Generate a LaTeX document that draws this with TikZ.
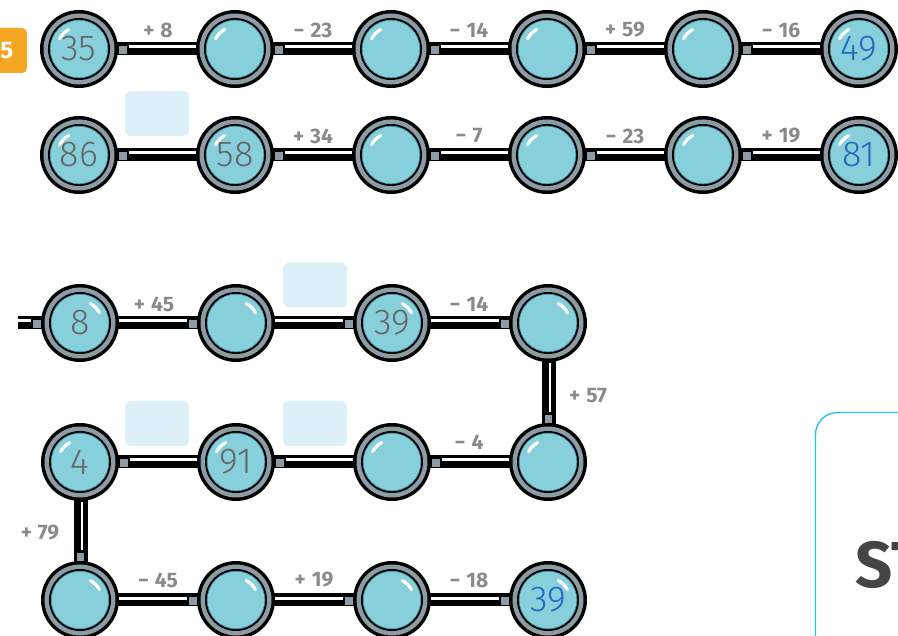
\documentclass[tikz,border=0pt]{standalone}
\usepackage{fontspec}
\setmainfont{Fira Sans}
\newfontfamily\numfont{Fira Sans Light}
\usetikzlibrary{calc}
\pgfdeclarelayer{bg}
\pgfsetlayers{bg,main}
\definecolor{beadcyan}{HTML}{86CFDB}
\definecolor{beadedge}{HTML}{3A9AAA}
\definecolor{ringgray}{HTML}{8C9BA4}
\definecolor{labgray}{HTML}{8A8A8A}
\definecolor{numgray}{HTML}{666666}
\definecolor{ansblue}{HTML}{2468C0}
\definecolor{boxblue}{HTML}{DDF0F8}
\definecolor{badgeorange}{HTML}{F5A623}
\definecolor{framecyan}{HTML}{22C0E6}
\definecolor{stgray}{HTML}{454545}
\tikzset{
  bead/.style={circle, minimum size=78pt, inner sep=0pt, fill=black,
    font=\numfont\fontsize{36}{36}\selectfont, text=numgray,
    path picture={
      \coordinate (pc) at (path picture bounding box.center);
      \fill[ringgray] (pc) circle (35.5pt);
      \fill[black] (pc) circle (31pt);
      \fill[beadcyan, draw=beadedge, line width=0.6pt] (pc) circle (28.8pt);
      \draw[white, line width=3.2pt, line cap=round]
        ([shift={(#1-17:22pt)}]pc) arc[start angle=#1-17, end angle=#1+17, radius=22pt];
    }},
  barblack/.style={black, line width=13pt},
  vbarblack/.style={black, line width=14pt},
  stripe/.style={white, line width=3pt},
  vstripe/.style={white, line width=2.6pt},
  sq/.style={rectangle, fill=ringgray, draw=black, line width=0.8pt, minimum size=8.5pt, inner sep=0pt},
  lab/.style={font=\bfseries\fontsize{21}{21}\selectfont, text=labgray, inner sep=0pt},
  ansbox/.style={rectangle, fill=boxblue, rounded corners=6pt, minimum width=64pt, minimum height=45pt, inner sep=0pt},
}
% horizontal connector, square at the left end
\newcommand\hconnL[2]{%
  \draw[barblack] ([xshift=-3pt,yshift=0.5pt]#1.east) -- ([xshift=3pt,yshift=0.5pt]#2.west);
  \draw[stripe] ([xshift=11pt,yshift=2pt]#1.east) -- ([xshift=1pt,yshift=2pt]#2.west);
  \node[sq] (sq-#1-#2) at ([xshift=4.5pt,yshift=-1pt]#1.east) {};
}
% horizontal connector, square at the right end
\newcommand\hconnR[2]{%
  \draw[barblack] ([xshift=-3pt,yshift=0.5pt]#1.east) -- ([xshift=3pt,yshift=0.5pt]#2.west);
  \draw[stripe] ([xshift=-1pt,yshift=2pt]#1.east) -- ([xshift=-10pt,yshift=2pt]#2.west);
  \node[sq] (sq-#1-#2) at ([xshift=-4pt,yshift=-1pt]#2.west) {};
}
% vertical connector, square at the bottom end
\newcommand\vconn[2]{%
  \draw[vbarblack] ([xshift=0.8pt,yshift=3pt]#1.south) -- ([xshift=0.8pt,yshift=-3pt]#2.north);
  \draw[vstripe] ([xshift=2pt,yshift=-1pt]#1.south) -- ([xshift=2pt,yshift=11pt]#2.north);
  \node[sq] (sq-#1-#2) at ([xshift=0.5pt,yshift=4pt]#2.north) {};
}
\begin{document}
\begin{tikzpicture}[x=1pt, y=-1pt]
\useasboundingbox (0,0) rectangle (898,636);
\clip (0,0) rectangle (898,636);

% badge
\node[rectangle, fill=badgeorange, rounded corners=5pt, minimum width=40pt, minimum height=45pt, inner sep=0pt] (badge) at (7,50.5) {};
\node[anchor=east, inner sep=0pt, text=white, font=\bfseries\fontsize{24}{24}\selectfont] (five) at (13.5,51) {5};

% answer boxes
\node[ansbox] (b21) at (157,113.5) {};
\node[ansbox] (b32) at (315,285) {};
\node[ansbox] (b41) at (157,423.5) {};
\node[ansbox] (b42) at (315,423.5) {};

% row 1
\node[bead=135] (c11) at (79,49) {35};
\node[bead=135] (c12) at (235,49) {};
\node[bead=135] (c13) at (391,49) {};
\node[bead=135] (c14) at (547,49) {};
\node[bead=135] (c15) at (703,49) {};
\node[bead=135, text=ansblue] (c16) at (859,49) {49};
% row 2
\node[bead=135] (c21) at (79,155) {86};
\node[bead=135] (c22) at (235,155) {58};
\node[bead=135] (c23) at (391,155) {};
\node[bead=135] (c24) at (547,155) {};
\node[bead=135] (c25) at (703,155) {};
\node[bead=135, text=ansblue] (c26) at (859,155) {81};
% row 3
\coordinate (stub) at (18,323);
\node[bead=45] (c31) at (80,323) {8};
\node[bead=45] (c32) at (236,323) {};
\node[bead=45] (c33) at (392,323) {39};
\node[bead=45] (c34) at (548,323) {};
% row 4
\node[bead=135] (c41) at (80,462) {4};
\node[bead=135] (c42) at (236,462) {91};
\node[bead=135] (c43) at (392,462) {};
\node[bead=135] (c44) at (548,462) {};
% row 5
\node[bead=45] (c51) at (80,600) {};
\node[bead=45] (c52) at (236,600) {};
\node[bead=45] (c53) at (392,600) {};
\node[bead=45, text=ansblue] (c54) at (548,600) {39};

% labels
\node[lab] (l11) at (158,30) {+\hspace{6pt}8};
\node[lab] (l12) at (313,30) {−\hspace{6pt}23};
\node[lab] (l13) at (469,30) {−\hspace{6pt}14};
\node[lab] (l14) at (625,30) {+\hspace{6pt}59};
\node[lab] (l15) at (781,30) {−\hspace{6pt}16};
\node[lab] (l22) at (313,136) {+\hspace{6pt}34};
\node[lab] (l23) at (469,136) {−\hspace{6pt}7};
\node[lab] (l24) at (625,136) {−\hspace{6pt}23};
\node[lab] (l25) at (781,136) {+\hspace{6pt}19};
\node[lab] (l31) at (154,304) {+\hspace{6pt}45};
\node[lab] (l33) at (469,304) {−\hspace{6pt}14};
\node[lab] (l34) at (588,396) {+\hspace{6pt}57};
\node[lab] (l43) at (469,442) {−\hspace{6pt}4};
\node[lab] (l41) at (40,533) {+\hspace{6pt}79};
\node[lab] (l51) at (158,580) {−\hspace{6pt}45};
\node[lab] (l52) at (314,580) {+\hspace{6pt}19};
\node[lab] (l53) at (469,580) {−\hspace{6pt}18};

% side panel
\draw[framecyan, line width=1.3pt, rounded corners=22pt] (815.5,412.5) rectangle (980,700);
\node[anchor=base west, inner sep=0pt, text=stgray, font=\bfseries\fontsize{65}{65}\selectfont] (st) at (855,587) {ST};

\begin{pgfonlayer}{bg}
  \hconnL{c11}{c12}\hconnL{c12}{c13}\hconnL{c13}{c14}\hconnL{c14}{c15}\hconnL{c15}{c16}
  \hconnL{c21}{c22}\hconnL{c22}{c23}\hconnL{c23}{c24}\hconnL{c24}{c25}\hconnL{c25}{c26}
  \draw[barblack] ([yshift=0.5pt]stub) -- ([xshift=3pt,yshift=0.5pt]c31.west);
  \draw[stripe] ([yshift=2pt]stub) -- ([xshift=-10pt,yshift=2pt]c31.west);
  \node[sq] (sq-stub) at ([xshift=-4pt,yshift=-1pt]c31.west) {};
  \hconnR{c31}{c32}\hconnR{c32}{c33}\hconnR{c33}{c34}
  \vconn{c34}{c44}
  \hconnL{c41}{c42}\hconnL{c42}{c43}\hconnL{c43}{c44}
  \vconn{c41}{c51}
  \hconnR{c51}{c52}\hconnR{c52}{c53}\hconnR{c53}{c54}
\end{pgfonlayer}
\end{tikzpicture}
\end{document}
